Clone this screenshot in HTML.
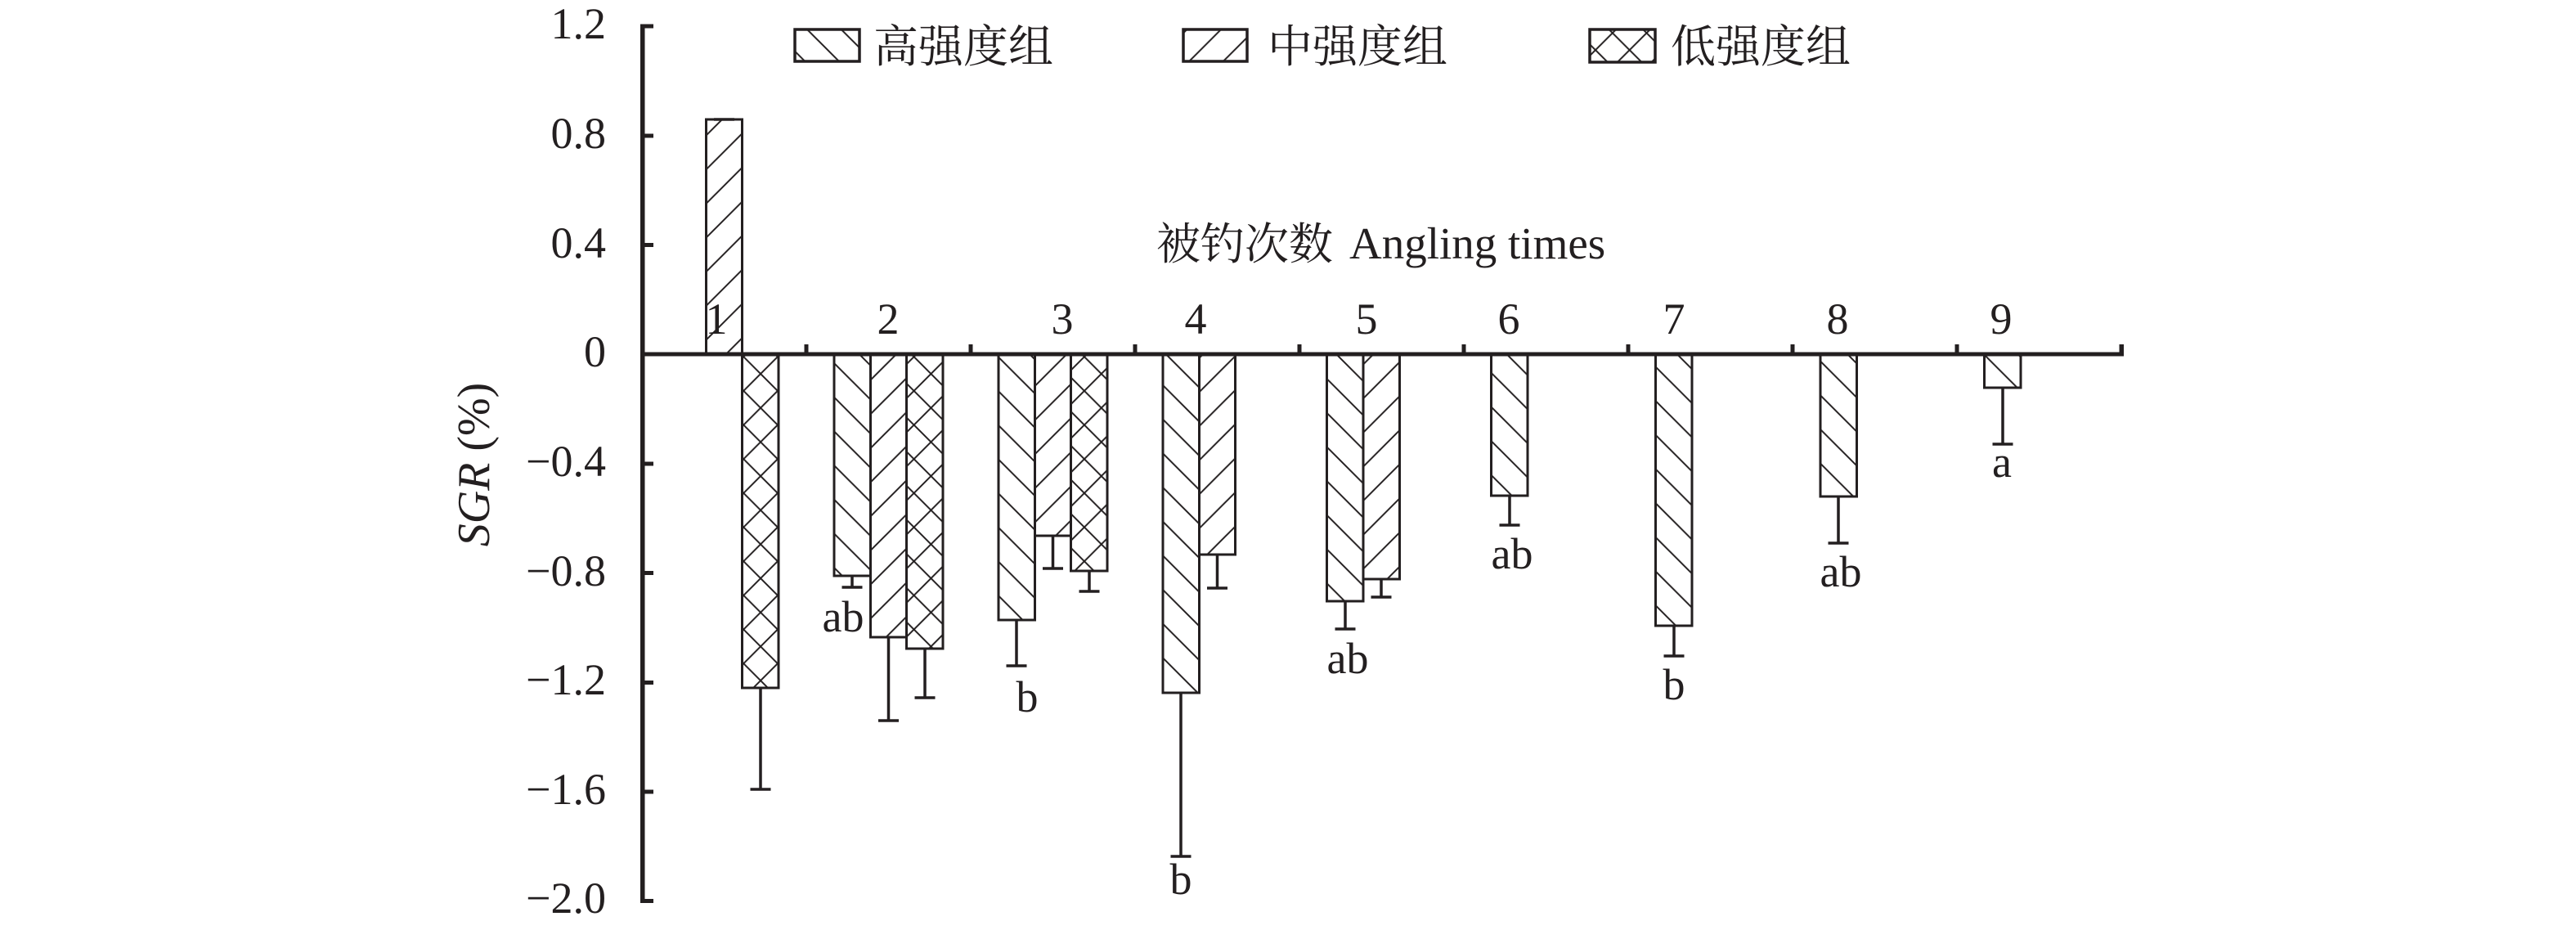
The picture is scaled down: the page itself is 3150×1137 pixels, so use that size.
<!DOCTYPE html>
<html>
<head>
<meta charset="utf-8">
<style>
html,body{margin:0;padding:0;background:#fff;}
svg{display:block;}
text{font-family:"Liberation Serif","Noto Serif CJK SC",serif;fill:#231f20;}
.cjk{font-family:"Noto Serif CJK SC","Liberation Serif",serif;}
</style>
</head>
<body>
<svg width="3150" height="1137" viewBox="0 0 3150 1137" xmlns="http://www.w3.org/2000/svg">
<defs>
  <pattern id="hi" patternUnits="userSpaceOnUse" width="41.67" height="41.67" patternTransform="translate(0,7.4)">
    <rect width="41.67" height="41.67" fill="#fff"/>
    <path d="M-5,-5 L46.67,46.67 M-5,36.67 L5,46.67 M36.67,-5 L46.67,5" stroke="#231f20" stroke-width="2" fill="none"/>
  </pattern>
  <pattern id="mid" patternUnits="userSpaceOnUse" width="41.67" height="41.67" patternTransform="translate(0,29)">
    <rect width="41.67" height="41.67" fill="#fff"/>
    <path d="M-5,46.67 L46.67,-5 M-5,5 L5,-5 M36.67,46.67 L46.67,36.67" stroke="#231f20" stroke-width="2" fill="none"/>
  </pattern>
  <pattern id="low" patternUnits="userSpaceOnUse" width="41.67" height="41.67" patternTransform="translate(-7.5,19.5)">
    <rect width="41.67" height="41.67" fill="#fff"/>
    <path d="M-5,-5 L46.67,46.67 M-5,36.67 L5,46.67 M36.67,-5 L46.67,5 M-5,46.67 L46.67,-5 M-5,5 L5,-5 M36.67,46.67 L46.67,36.67" stroke="#231f20" stroke-width="2" fill="none"/>
  </pattern>
</defs>

<!-- Legend -->
<rect x="972" y="36" width="79" height="39" fill="url(#hi)" stroke="#231f20" stroke-width="3.5"/>
<text class="cjk" x="1068" y="76" font-size="55">高强度组</text>
<rect x="1447" y="36" width="78" height="39" fill="url(#mid)" stroke="#231f20" stroke-width="3.5"/>
<text class="cjk" x="1550" y="76" font-size="55">中强度组</text>
<rect x="1944" y="36" width="80" height="40" fill="url(#low)" stroke="#231f20" stroke-width="3.5"/>
<text class="cjk" x="2043" y="76" font-size="55">低强度组</text>

<!-- X axis title -->
<text class="cjk" x="1414" y="317" font-size="54">被钓次数</text>
<text x="1650" y="316" font-size="55">Angling times</text>

<!-- Y axis label -->
<text transform="translate(598,568) rotate(-90)" text-anchor="middle" font-size="56"><tspan font-style="italic">SGR</tspan> (%)</text>

<!-- Y tick labels -->
<g font-size="54" text-anchor="end">
  <text x="741" y="47">1.2</text>
  <text x="741" y="181">0.8</text>
  <text x="741" y="315">0.4</text>
  <text x="741" y="448">0</text>
  <text x="741" y="582">−0.4</text>
  <text x="741" y="716">−0.8</text>
  <text x="741" y="849">−1.2</text>
  <text x="741" y="983">−1.6</text>
  <text x="741" y="1116">−2.0</text>
</g>

<!-- Bars -->
<g stroke="#231f20" stroke-width="3">
  <!-- cat1 -->
  <rect x="863.5" y="146" width="44" height="287" fill="url(#mid)"/>
  <rect x="907.5" y="433" width="44.5" height="408" fill="url(#low)"/>
  <!-- cat2 -->
  <rect x="1020" y="433" width="44.5" height="271" fill="url(#hi)"/>
  <rect x="1064.5" y="433" width="44" height="346" fill="url(#mid)"/>
  <rect x="1108.5" y="433" width="44.5" height="360" fill="url(#low)"/>
  <!-- cat3 -->
  <rect x="1221" y="433" width="44.5" height="325" fill="url(#hi)"/>
  <rect x="1265.5" y="433" width="44" height="222" fill="url(#mid)"/>
  <rect x="1309.5" y="433" width="44.5" height="265" fill="url(#low)"/>
  <!-- cat4 -->
  <rect x="1422" y="433" width="44.5" height="414" fill="url(#hi)"/>
  <rect x="1466.5" y="433" width="44" height="245" fill="url(#mid)"/>
  <!-- cat5 -->
  <rect x="1622.5" y="433" width="44.5" height="302" fill="url(#hi)"/>
  <rect x="1667" y="433" width="44.5" height="275" fill="url(#mid)"/>
  <!-- cat6 -->
  <rect x="1823.5" y="433" width="44.5" height="173" fill="url(#hi)"/>
  <!-- cat7 -->
  <rect x="2024.5" y="433" width="44.5" height="332" fill="url(#hi)"/>
  <!-- cat8 -->
  <rect x="2226" y="433" width="44.5" height="174" fill="url(#hi)"/>
  <!-- cat9 -->
  <rect x="2426.5" y="433" width="44.5" height="41" fill="url(#hi)"/>
</g>

<!-- Category labels (drawn over bars) -->
<g font-size="54" text-anchor="middle">
  <text x="876" y="408">1</text>
  <text x="1086" y="408">2</text>
  <text x="1299" y="408">3</text>
  <text x="1462" y="408">4</text>
  <text x="1671" y="408">5</text>
  <text x="1845" y="408">6</text>
  <text x="2047" y="408">7</text>
  <text x="2247" y="408">8</text>
  <text x="2447" y="408">9</text>
</g>

<!-- Error bars -->
<g stroke="#231f20" stroke-width="3.5" fill="none">
  <path d="M873,146 H898"/>
  <path d="M930,841 V965 M917.5,965 H942.5"/>
  <path d="M1042,704 V718 M1029.5,718 H1054.5"/>
  <path d="M1086.5,779 V881 M1074,881 H1099"/>
  <path d="M1131,793 V853 M1118.5,853 H1143.5"/>
  <path d="M1243,758 V814 M1230.5,814 H1255.5"/>
  <path d="M1287.5,655 V695 M1275,695 H1300"/>
  <path d="M1332,698 V723 M1319.5,723 H1344.5"/>
  <path d="M1444,847 V1047 M1431.5,1047 H1456.5"/>
  <path d="M1488.5,678 V719 M1476,719 H1501"/>
  <path d="M1645,735 V769 M1632.5,769 H1657.5"/>
  <path d="M1689,708 V730 M1676.5,730 H1701.5"/>
  <path d="M1846,606 V642 M1833.5,642 H1858.5"/>
  <path d="M2047,765 V802 M2034.5,802 H2059.5"/>
  <path d="M2248,607 V664 M2235.5,664 H2260.5"/>
  <path d="M2449,474 V543 M2436.5,543 H2461.5"/>
</g>

<!-- Significance letters -->
<g font-size="54" text-anchor="middle">
  <text x="1031" y="772">ab</text>
  <text x="1256" y="870">b</text>
  <text x="1444" y="1093">b</text>
  <text x="1648" y="823">ab</text>
  <text x="1849" y="695">ab</text>
  <text x="2047" y="855">b</text>
  <text x="2251" y="717">ab</text>
  <text x="2448" y="583">a</text>
</g>

<!-- Axes -->
<g fill="#231f20">
  <rect x="783" y="29.5" width="5.5" height="1074.5"/>
  <!-- y ticks -->
  <rect x="783" y="29.5" width="16" height="5"/>
  <rect x="783" y="163.5" width="16" height="5"/>
  <rect x="783" y="297" width="16" height="5"/>
  <rect x="783" y="564.5" width="16" height="5"/>
  <rect x="783" y="698" width="16" height="5"/>
  <rect x="783" y="832" width="16" height="5"/>
  <rect x="783" y="965.5" width="16" height="5"/>
  <rect x="783" y="1099" width="16" height="5"/>
  <!-- x axis -->
  <rect x="783" y="430.5" width="1814" height="5"/>
  <!-- x ticks -->
  <rect x="983.5" y="421" width="5" height="12"/>
  <rect x="1184.5" y="421" width="5" height="12"/>
  <rect x="1385.5" y="421" width="5" height="12"/>
  <rect x="1586.5" y="421" width="5" height="12"/>
  <rect x="1787.5" y="421" width="5" height="12"/>
  <rect x="1988.5" y="421" width="5" height="12"/>
  <rect x="2189.5" y="421" width="5" height="12"/>
  <rect x="2390.5" y="421" width="5" height="12"/>
  <rect x="2591.5" y="421" width="5.5" height="12"/>
</g>
</svg>
</body>
</html>
